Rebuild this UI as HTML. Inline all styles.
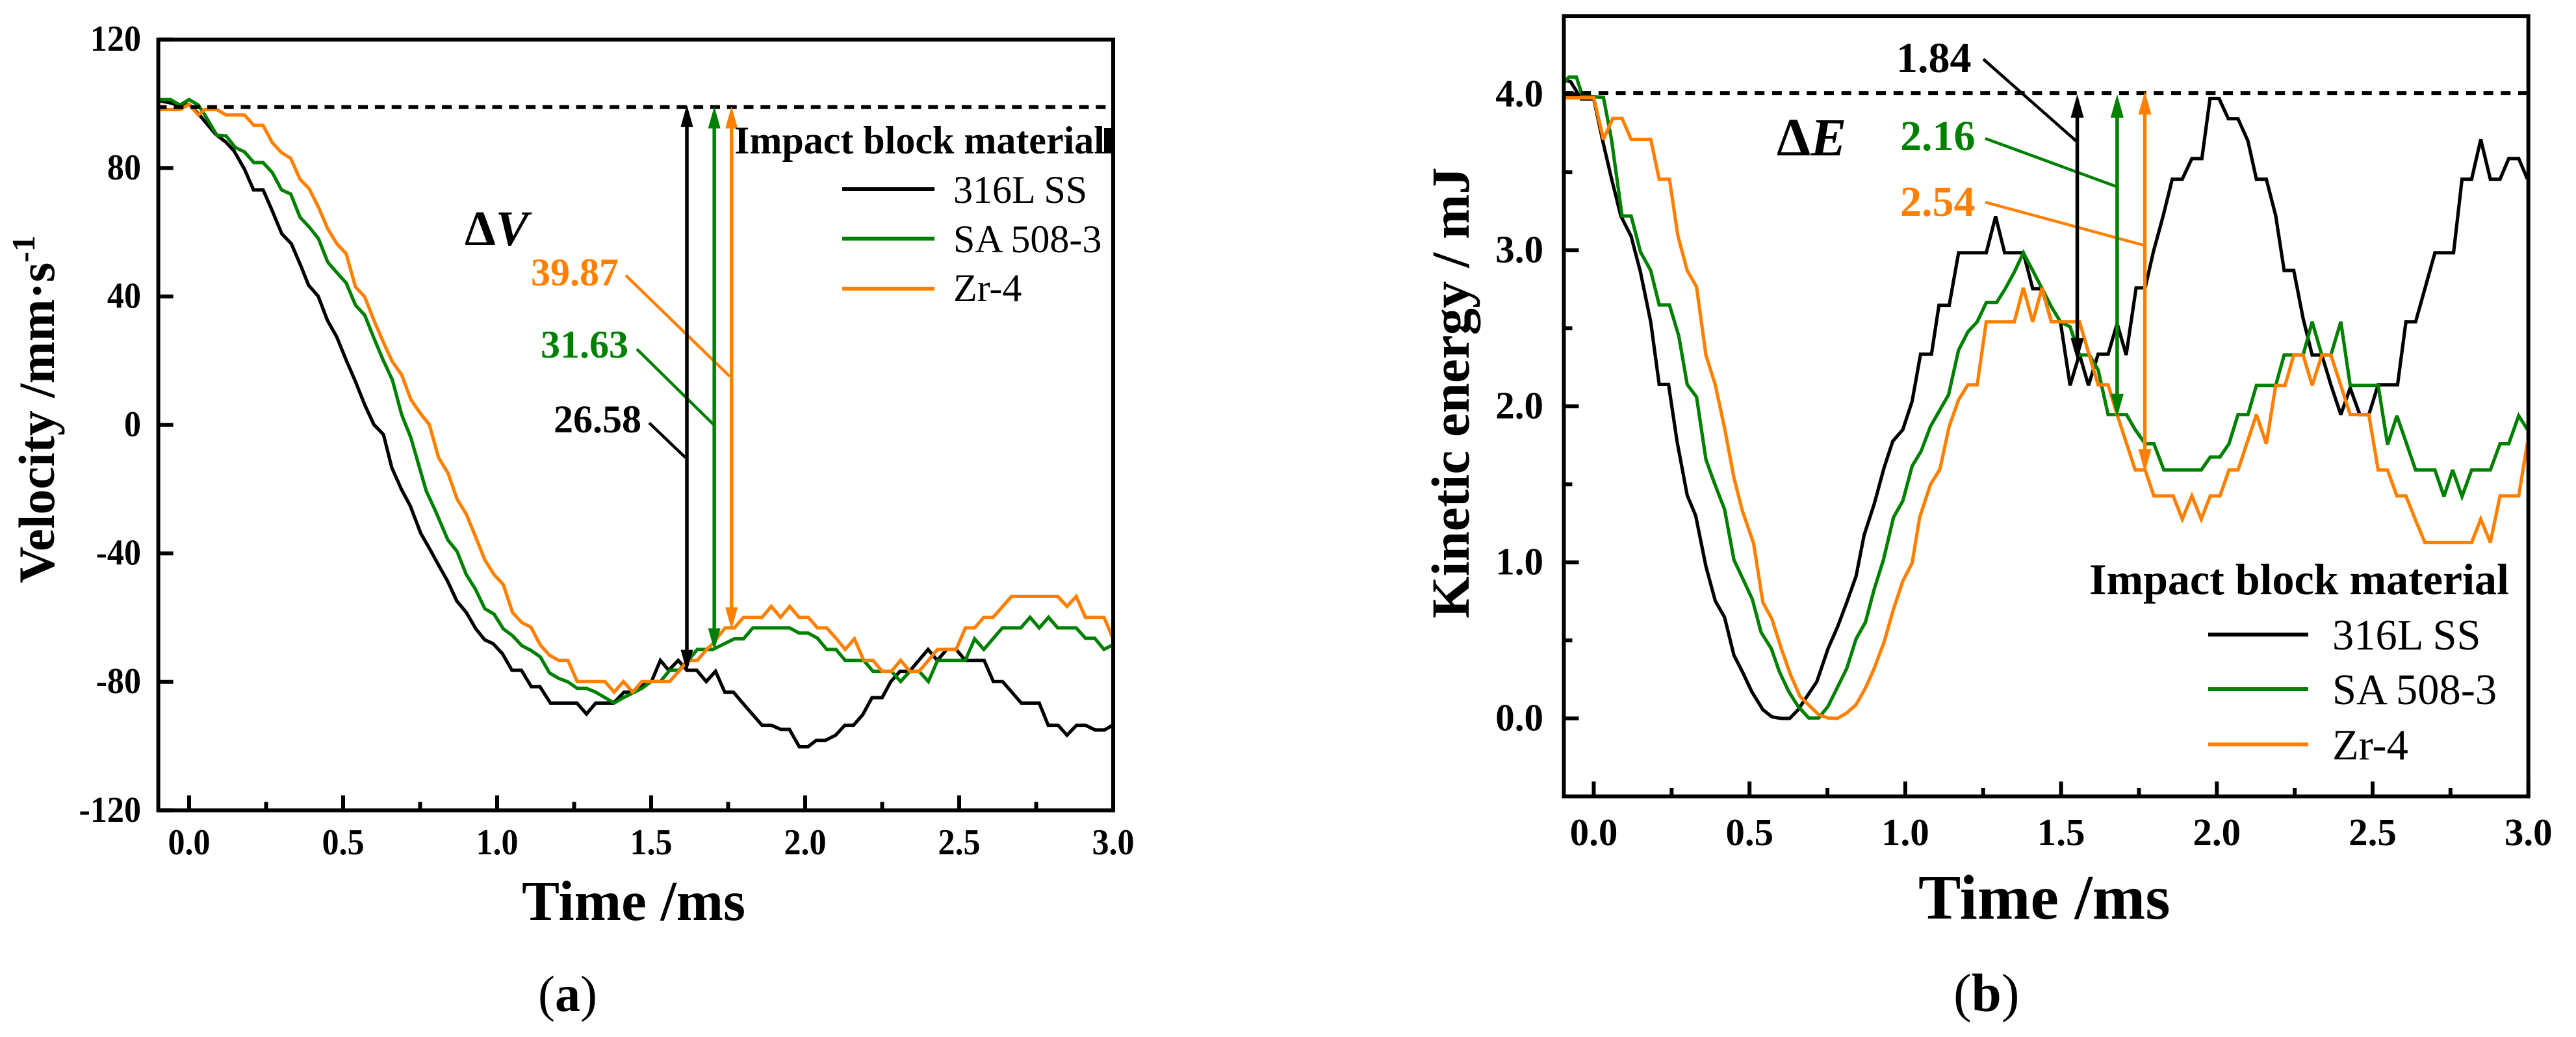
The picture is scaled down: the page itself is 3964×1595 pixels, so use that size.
<!DOCTYPE html>
<html lang="en">
<head>
<meta charset="utf-8">
<title>Velocity and kinetic energy versus time</title>
<style>
html,body{margin:0;padding:0;background:#fff;}
svg{display:block;}
text{font-family:"Liberation Serif",serif;fill:#000;}
</style>
</head>
<body>
<svg id="figure" xmlns="http://www.w3.org/2000/svg" width="3964" height="1595" viewBox="0 0 3964 1595">
<rect x="0" y="0" width="3964" height="1595" fill="#fff"/>

<g id="panel-a"></g>
<g id="panel-b"></g>

<text transform="translate(83,897) rotate(-90)" font-size="78" font-weight="bold">Velocity /mm·s<tspan font-size="50" dy="-30">-1</tspan></text>
<text x="803" y="1415" font-size="87" font-weight="bold">Time /ms</text>
<text x="715" y="377" font-size="76" font-weight="bold">Δ<tspan font-style="italic">V</tspan></text>
<text x="817" y="439" font-size="60" font-weight="bold" style="fill:#FF8000">39.87</text>
<text x="832" y="550" font-size="60" font-weight="bold" style="fill:#008000">31.63</text>
<text x="852" y="665" font-size="60" font-weight="bold">26.58</text>
<text x="1130" y="236" font-size="60" font-weight="bold">Impact block material</text>
<rect x="1699" y="197" width="13" height="39" fill="#000"/>
<text x="1467" y="312" font-size="60">316L SS</text>
<text x="1467" y="388" font-size="60">SA 508-3</text>
<text x="1467" y="463" font-size="60">Zr-4</text>
<text x="828" y="1555" font-size="78">(<tspan font-weight="bold">a</tspan>)</text>

<text transform="translate(2260,951) rotate(-90)" font-size="83" font-weight="bold">Kinetic energy / mJ</text>
<text x="2952" y="1413" font-size="98" font-weight="bold">Time /ms</text>
<text x="2734" y="239" font-size="83" font-weight="bold">Δ<tspan font-style="italic">E</tspan></text>
<text x="2918" y="111" font-size="66" font-weight="bold">1.84</text>
<text x="2924" y="231" font-size="66" font-weight="bold" style="fill:#008000">2.16</text>
<text x="2924" y="332" font-size="66" font-weight="bold" style="fill:#FF8000">2.54</text>
<text x="3215" y="914" font-size="68" font-weight="bold">Impact block material</text>
<text x="3589" y="999" font-size="66.5">316L SS</text>
<text x="3589" y="1083" font-size="66.5">SA 508-3</text>
<text x="3589" y="1168" font-size="66.5">Zr-4</text>
<text x="3006" y="1555" font-size="83">(<tspan font-weight="bold">b</tspan>)</text>
</svg>

<script>
const timeMajorTicks = [0, 0.5, 1, 1.5, 2, 2.5, 3];
const timeMinorTicks = [0.25, 0.75, 1.25, 1.75, 2.25, 2.75];
const timeTickLabels = ['0.0', '0.5', '1.0', '1.5', '2.0', '2.5', '3.0'];
const velocityTicks = [-120, -80, -40, 0, 40, 80, 120];
const velocityTickLabels = ['-120', '-80', '-40', '0', '40', '80', '120'];
const energyMajorTicks = [0, 1, 2, 3, 4];
const energyMinorTicks = [0.5, 1.5, 2.5, 3.5];
const energyTickLabels = ['0.0', '1.0', '2.0', '3.0', '4.0'];
const seriesNames = ['316l-ss', 'sa-508-3', 'zr-4'];
const seriesColors = ['#000000', '#008000', '#FF8000'];

const velocityReference = 98.97;
const energyReference = 4.008;
const velocityArrowTimes = [1.616, 1.705, 1.761];
const velocityArrowTops = [99.7, 99.2, 99.2];
const velocityArrowBottoms = [-76.9, -70.2, -63.7];
const energyArrowTimes = [1.552, 1.68, 1.769];
const energyArrowTops = [4.0, 4.0, 4.02];
const energyArrowBottoms = [2.287, 1.93, 1.575];

const vel316Time = [-0.099,-0.062,-0.033,0,0.032,0.086,0.119,0.146,0.18,0.209,0.24,0.267,0.301,0.332,0.362,0.388,0.419,0.449,0.479,0.51,0.54,0.57,0.6,0.631,0.658,0.689,0.718,0.752,0.783,0.812,0.839,0.869,0.9,0.931,0.96,0.987,1.017,1.048,1.079,1.111,1.139,1.173,1.259,1.29,1.32,1.378,1.412,1.436,1.473,1.501,1.53,1.557,1.588,1.616,1.648,1.679,1.709,1.739,1.767,1.8,1.83,1.86,1.89,1.921,1.949,1.981,2.009,2.036,2.066,2.099,2.129,2.157,2.187,2.217,2.25,2.278,2.308,2.339,2.369,2.399,2.429,2.46,2.49,2.52,2.581,2.611,2.641,2.702,2.76,2.789,2.821,2.85,2.881,2.91,2.942,2.971,2.998];
const vel316 = [101,100.3,99.5,99.8,96.7,90.5,88.1,85.3,79.6,73.2,73.2,67.3,59.5,56.4,49.7,43.5,40.1,32.6,27.5,20.2,13.5,6.3,0.1,-3,-13.3,-20,-25.2,-33.7,-38.9,-44,-48.6,-54.8,-58.4,-63.5,-66.9,-68.1,-71.2,-76.4,-76.4,-81.5,-81.5,-86.6,-86.6,-90,-86.6,-86.6,-83.2,-83.2,-81,-79.9,-73.3,-76.4,-73.3,-76.4,-76.4,-79.9,-76.7,-83.2,-83.2,-86.9,-90.2,-93.5,-93.5,-94.8,-94.8,-100.2,-100.2,-98.2,-98.2,-96.6,-93.5,-93.5,-90.2,-84.9,-84.9,-79.9,-76.7,-76.7,-73.3,-69.9,-73.3,-69.9,-69.9,-73.3,-73.3,-79.9,-79.9,-86.6,-86.6,-93.5,-93.5,-96.6,-93.5,-93.5,-95,-95,-93.5];

const velSaTime = [-0.1,-0.06,-0.03,0,0.03,0.05,0.09,0.12,0.15,0.18,0.21,0.24,0.27,0.3,0.33,0.36,0.39,0.42,0.45,0.48,0.51,0.54,0.57,0.6,0.63,0.66,0.69,0.72,0.745,0.77,0.8,0.84,0.87,0.9,0.93,0.96,0.99,1.02,1.05,1.08,1.11,1.14,1.17,1.2,1.23,1.26,1.29,1.32,1.38,1.41,1.44,1.47,1.5,1.53,1.56,1.59,1.62,1.65,1.7,1.77,1.8,1.83,1.95,1.98,2.01,2.04,2.07,2.1,2.13,2.19,2.22,2.28,2.31,2.34,2.37,2.4,2.43,2.52,2.55,2.58,2.64,2.7,2.73,2.76,2.79,2.82,2.88,2.91,2.94,2.97,3];
const velSa = [101.3,101.3,99.6,101.3,99.6,96.7,90.2,90,86.4,85,81.7,81.7,78.6,73.2,71.9,64.7,61.6,58,50.7,47.4,44.2,37.3,34.2,27,20.2,14,3.2,-4,-12.3,-20.6,-26.8,-35.8,-39.4,-46.6,-51.2,-57.2,-58.9,-63.5,-65.6,-68.7,-70.2,-72.2,-77.2,-78.9,-80,-82,-82,-83.2,-86.6,-84.9,-83.5,-82,-79.9,-79.9,-76.4,-76.4,-73.3,-69.9,-69.9,-66.6,-66.6,-63.2,-63.2,-64.8,-64.8,-66.4,-69.9,-69.9,-73.3,-73.3,-76.7,-76.7,-79.9,-76.7,-76.7,-79.9,-73.3,-73.3,-66.6,-69.9,-63.2,-63.2,-59.9,-63.2,-59.9,-63.2,-63.2,-66.4,-66.4,-69.9,-68.4];

const velZrTime = [-0.1,-0.03,0,0.03,0.05,0.09,0.12,0.18,0.21,0.24,0.27,0.3,0.33,0.36,0.39,0.42,0.45,0.48,0.51,0.54,0.57,0.6,0.63,0.66,0.69,0.72,0.75,0.78,0.81,0.84,0.87,0.9,0.93,0.96,0.99,1.02,1.05,1.08,1.11,1.14,1.17,1.2,1.23,1.26,1.35,1.38,1.41,1.44,1.47,1.56,1.59,1.62,1.65,1.68,1.7,1.74,1.77,1.8,1.86,1.89,1.92,1.95,1.98,2.01,2.04,2.07,2.1,2.13,2.16,2.19,2.22,2.25,2.28,2.31,2.34,2.37,2.4,2.43,2.49,2.52,2.55,2.58,2.61,2.67,2.82,2.85,2.88,2.91,2.97,3];
const velZr = [98.2,98.2,99.8,96.5,98.2,98.2,96.5,96.5,93.3,93.3,87.9,84.8,83,76.5,73.5,67.8,61.1,56.4,53.3,43,39.9,32.6,25.9,19.7,15.6,7.9,3.7,0.1,-10.2,-14.9,-23.1,-27.8,-34.8,-42,-46.6,-49.7,-58.4,-61.5,-63,-68.5,-71.7,-73.3,-73.3,-79.9,-79.9,-83.2,-79.9,-83.2,-79.9,-79.9,-76.7,-73.3,-73.3,-69.9,-68.1,-63.2,-63.2,-59.9,-59.9,-56.5,-59.9,-56.5,-59.9,-59.9,-63.2,-63.2,-66.4,-69.9,-66.6,-73.3,-73.3,-76.7,-76.7,-73.3,-76.7,-76.7,-73.3,-69.9,-69.9,-63.2,-63.2,-59.9,-59.9,-53.4,-53.4,-56.5,-53.4,-59.9,-59.9,-66.6];

const en316Time = [-0.096,-0.074,-0.04,0,0.03,0.057,0.087,0.12,0.15,0.183,0.21,0.24,0.267,0.3,0.327,0.36,0.39,0.42,0.45,0.477,0.507,0.543,0.572,0.602,0.629,0.656,0.716,0.752,0.782,0.812,0.842,0.868,0.9,0.932,0.96,0.992,1.022,1.049,1.084,1.108,1.141,1.171,1.26,1.29,1.319,1.379,1.409,1.439,1.469,1.498,1.529,1.559,1.588,1.619,1.651,1.68,1.709,1.741,1.77,1.796,1.828,1.857,1.889,1.92,1.952,1.978,2.007,2.037,2.068,2.1,2.127,2.159,2.189,2.216,2.247,2.277,2.306,2.337,2.366,2.398,2.428,2.459,2.488,2.518,2.58,2.607,2.638,2.668,2.7,2.76,2.787,2.818,2.847,2.878,2.909,2.937,2.969,2.997];
const en316 = [4.094,4.08,3.97,3.97,3.69,3.46,3.22,3.09,2.86,2.54,2.14,2.14,1.78,1.43,1.3,0.975,0.753,0.648,0.405,0.299,0.172,0.056,0.01,0,0,0.056,0.236,0.447,0.584,0.743,0.912,1.176,1.373,1.607,1.777,1.851,2.032,2.334,2.334,2.648,2.648,2.984,2.984,3.218,2.984,2.984,2.754,2.754,2.542,2.542,2.134,2.334,2.134,2.334,2.334,2.531,2.329,2.759,2.759,2.988,3.222,3.456,3.456,3.588,3.588,3.973,3.973,3.843,3.843,3.7,3.456,3.456,3.222,2.871,2.871,2.563,2.329,2.329,2.138,1.947,2.117,1.947,1.947,2.138,2.138,2.542,2.542,2.754,2.984,2.984,3.456,3.456,3.711,3.456,3.456,3.588,3.588,3.456];

const enSaTime = [-0.096,-0.08,-0.056,-0.036,0.031,0.057,0.091,0.12,0.15,0.183,0.21,0.243,0.273,0.3,0.33,0.36,0.387,0.42,0.45,0.477,0.509,0.537,0.57,0.596,0.626,0.656,0.69,0.722,0.752,0.812,0.842,0.872,0.9,0.93,0.962,0.992,1.022,1.051,1.081,1.139,1.171,1.201,1.231,1.26,1.293,1.321,1.35,1.379,1.409,1.439,1.469,1.498,1.529,1.559,1.591,1.619,1.651,1.71,1.738,1.77,1.798,1.83,1.95,1.979,2.01,2.039,2.068,2.1,2.127,2.189,2.216,2.277,2.306,2.337,2.366,2.398,2.428,2.518,2.548,2.578,2.638,2.7,2.729,2.757,2.787,2.818,2.878,2.909,2.937,2.969,2.997];
const enSa = [4.07,4.11,4.11,3.99,3.98,3.71,3.22,3.22,2.99,2.87,2.65,2.65,2.45,2.14,2.06,1.66,1.51,1.34,1.017,0.901,0.764,0.553,0.447,0.299,0.172,0.077,0.003,0.003,0.077,0.32,0.51,0.616,0.827,1.017,1.288,1.394,1.617,1.713,1.872,2.074,2.361,2.478,2.542,2.665,2.665,2.754,2.861,2.984,2.871,2.754,2.638,2.542,2.51,2.329,2.329,2.234,1.947,1.947,1.851,1.76,1.76,1.592,1.592,1.675,1.675,1.76,1.947,1.947,2.134,2.134,2.329,2.329,2.542,2.329,2.329,2.542,2.134,2.134,1.755,1.94,1.592,1.592,1.422,1.592,1.422,1.592,1.592,1.76,1.76,1.94,1.851];

const enZrTime = [-0.096,0,0.031,0.061,0.091,0.12,0.183,0.21,0.243,0.27,0.3,0.33,0.36,0.39,0.42,0.45,0.477,0.513,0.543,0.572,0.602,0.632,0.662,0.722,0.752,0.782,0.812,0.842,0.872,0.9,0.932,0.962,0.992,1.022,1.046,1.081,1.111,1.141,1.171,1.201,1.231,1.26,1.35,1.379,1.409,1.439,1.469,1.559,1.619,1.651,1.68,1.738,1.77,1.798,1.86,1.889,1.92,1.95,1.979,2.01,2.039,2.068,2.127,2.159,2.189,2.219,2.247,2.277,2.306,2.337,2.366,2.398,2.428,2.488,2.518,2.548,2.578,2.607,2.638,2.668,2.818,2.847,2.878,2.909,2.969,2.997];
const enZr = [3.977,3.977,3.711,3.845,3.845,3.711,3.711,3.456,3.456,3.095,2.871,2.765,2.329,2.138,1.862,1.543,1.33,1.123,0.743,0.637,0.447,0.278,0.141,0.024,0.003,0,0.035,0.088,0.194,0.32,0.489,0.7,0.88,0.996,1.288,1.5,1.596,1.872,2.042,2.138,2.138,2.542,2.542,2.759,2.542,2.759,2.542,2.542,2.138,2.138,1.947,1.592,1.592,1.426,1.426,1.277,1.426,1.277,1.426,1.426,1.592,1.592,1.947,1.76,2.134,2.134,2.329,2.329,2.134,2.329,2.329,2.134,1.947,1.947,1.592,1.592,1.426,1.426,1.27,1.127,1.127,1.277,1.127,1.426,1.426,1.766];

const SVG_NS = 'http://www.w3.org/2000/svg';

function xA(t) { return 291 + 474 * t; }
function yA(v) { return 653.6 - 4.94 * v; }
function xB(t) { return 2452.5 + 479.4 * t; }
function yB(e) { return 1105 - 240 * e; }

function make(parent, tag, name, attrs) {
  const el = document.createElementNS(SVG_NS, tag);
  
  
  for (const key in attrs) el.setAttribute(key, attrs[key]);
  parent.appendChild(el);
  return el;
}

function drawSeries(parent, xs, ys, times, values, name, color) {
  const pts = times.map(function (t, i) { return xs(t).toFixed(1) + ',' + ys(values[i]).toFixed(1); }).join(' ');
  make(parent, 'polyline', name, {points: pts, fill: 'none', stroke: color, 'stroke-width': 5.2, 'stroke-linejoin': 'miter', 'stroke-miterlimit': 3});
}

function drawArrow(parent, xs, ys, t, top, bottom, color, name, headLen, headHalf) {
  const x = xs(t), y1 = ys(top), y2 = ys(bottom);
  make(parent, 'line', name + '-shaft', {x1: x, x2: x, y1: y1 + 10, y2: y2 - 10, stroke: color, 'stroke-width': 5.5});
  make(parent, 'polygon', name + '-head-top', {points: x + ',' + y1 + ' ' + (x - headHalf) + ',' + (y1 + headLen) + ' ' + (x + headHalf) + ',' + (y1 + headLen), fill: color});
  make(parent, 'polygon', name + '-head-bottom', {points: x + ',' + y2 + ' ' + (x - headHalf) + ',' + (y2 - headLen) + ' ' + (x + headHalf) + ',' + (y2 - headLen), fill: color});
}

function drawPanel(g, cfg) {
  const L = cfg.xs(cfg.tMin), R = cfg.xs(cfg.tMax), T = cfg.ys(cfg.yMax), B = cfg.ys(cfg.yMin);

  cfg.seriesTimes.forEach(function (times, i) {
    drawSeries(g, cfg.xs, cfg.ys, times, cfg.seriesValues[i], cfg.prefix + '-line-' + seriesNames[i], seriesColors[i]);
  });

  make(g, 'line', cfg.prefix + '-reference-line', {x1: L, x2: cfg.dashEnd, y1: cfg.ys(cfg.reference), y2: cfg.ys(cfg.reference), stroke: '#000', 'stroke-width': 6, 'stroke-dasharray': cfg.dash, 'stroke-dashoffset': cfg.dashOffset});

  cfg.leaders.forEach(function (l, i) {
    make(g, 'line', cfg.prefix + '-leader-' + seriesNames[i], {x1: l[0], y1: l[1], x2: l[2], y2: l[3], stroke: seriesColors[i], 'stroke-width': 4.5});
  });

  cfg.arrowTimes.forEach(function (t, i) {
    drawArrow(g, cfg.xs, cfg.ys, t, cfg.arrowTops[i], cfg.arrowBottoms[i], seriesColors[i], cfg.prefix + '-arrow-' + seriesNames[i], cfg.headLen, cfg.headHalf);
  });

  make(g, 'rect', cfg.prefix + '-plot-frame', {x: L, y: T, width: R - L, height: B - T, fill: 'none', stroke: '#000', 'stroke-width': 6});

  timeMajorTicks.forEach(function (t, i) {
    const x = cfg.xs(t);
    make(g, 'line', cfg.prefix + '-x-tick', {x1: x, x2: x, y1: B, y2: B - 23, stroke: '#000', 'stroke-width': 6});
    const label = make(g, 'text', cfg.prefix + '-x-tick-label', {transform: 'translate(' + x + ',' + cfg.xLabelY + ') scale(' + cfg.tickScale + ',1)', 'font-size': cfg.tickFont, 'font-weight': 'bold', 'text-anchor': 'middle'});
    label.textContent = timeTickLabels[i];
  });
  timeMinorTicks.forEach(function (t) {
    const x = cfg.xs(t);
    make(g, 'line', cfg.prefix + '-x-minor-tick', {x1: x, x2: x, y1: B, y2: B - 13, stroke: '#000', 'stroke-width': 6});
  });
  cfg.yTicks.forEach(function (v, i) {
    const y = cfg.ys(v);
    make(g, 'line', cfg.prefix + '-y-tick', {x1: L, x2: L + 23, y1: y, y2: y, stroke: '#000', 'stroke-width': 6});
    const label = make(g, 'text', cfg.prefix + '-y-tick-label', {transform: 'translate(' + cfg.yLabelX + ',' + (y + cfg.tickFont * 0.31) + ') scale(' + cfg.tickScale + ',1)', 'font-size': cfg.tickFont, 'font-weight': 'bold', 'text-anchor': 'end'});
    label.textContent = cfg.yLabels[i];
  });
  cfg.yMinor.forEach(function (v) {
    const y = cfg.ys(v);
    make(g, 'line', cfg.prefix + '-y-minor-tick', {x1: L, x2: L + 13, y1: y, y2: y, stroke: '#000', 'stroke-width': 6});
  });

  cfg.legendY.forEach(function (y, i) {
    make(g, 'line', cfg.prefix + '-legend-line-' + seriesNames[i], {x1: cfg.legendX1, x2: cfg.legendX2, y1: y, y2: y, stroke: seriesColors[i], 'stroke-width': 6});
  });
}

drawPanel(document.getElementById('panel-a'), {
  prefix: 'velocity', xs: xA, ys: yA, tMin: -0.1, tMax: 3, yMin: -120, yMax: 120,
  seriesTimes: [vel316Time, velSaTime, velZrTime], seriesValues: [vel316, velSa, velZr],
  reference: velocityReference, dash: '15 10.8', dashOffset: 2.1, dashEnd: 1702,
  arrowTimes: velocityArrowTimes, arrowTops: velocityArrowTops, arrowBottoms: velocityArrowBottoms,
  headLen: 34, headHalf: 9.5,
  leaders: [[999, 650.5, 1055, 704], [980, 537, 1098, 653], [963, 423.5, 1123, 579]],
  yTicks: velocityTicks, yLabels: velocityTickLabels, yMinor: [],
  tickFont: 56, tickScale: 0.93, xLabelY: 1314, yLabelX: 217,
  legendY: [291, 367, 444], legendX1: 1296, legendX2: 1438
});

drawPanel(document.getElementById('panel-b'), {
  prefix: 'energy', xs: xB, ys: yB, tMin: -0.096, tMax: 3, yMin: -0.5, yMax: 4.5,
  seriesTimes: [en316Time, enSaTime, enZrTime], seriesValues: [en316, enSa, enZr],
  reference: energyReference, dash: '15 11.7', dashOffset: 0, dashEnd: 3891,
  arrowTimes: energyArrowTimes, arrowTops: energyArrowTops, arrowBottoms: energyArrowBottoms,
  headLen: 36, headHalf: 10,
  leaders: [[3052, 91, 3195, 217], [3055, 213, 3257, 287], [3055, 311, 3300, 377.5]],
  yTicks: energyMajorTicks, yLabels: energyTickLabels, yMinor: energyMinorTicks,
  tickFont: 59, tickScale: 1, xLabelY: 1300, yLabelX: 2375,
  legendY: [976, 1060, 1145], legendX1: 3398, legendX2: 3552
});
</script>
</body>
</html>
